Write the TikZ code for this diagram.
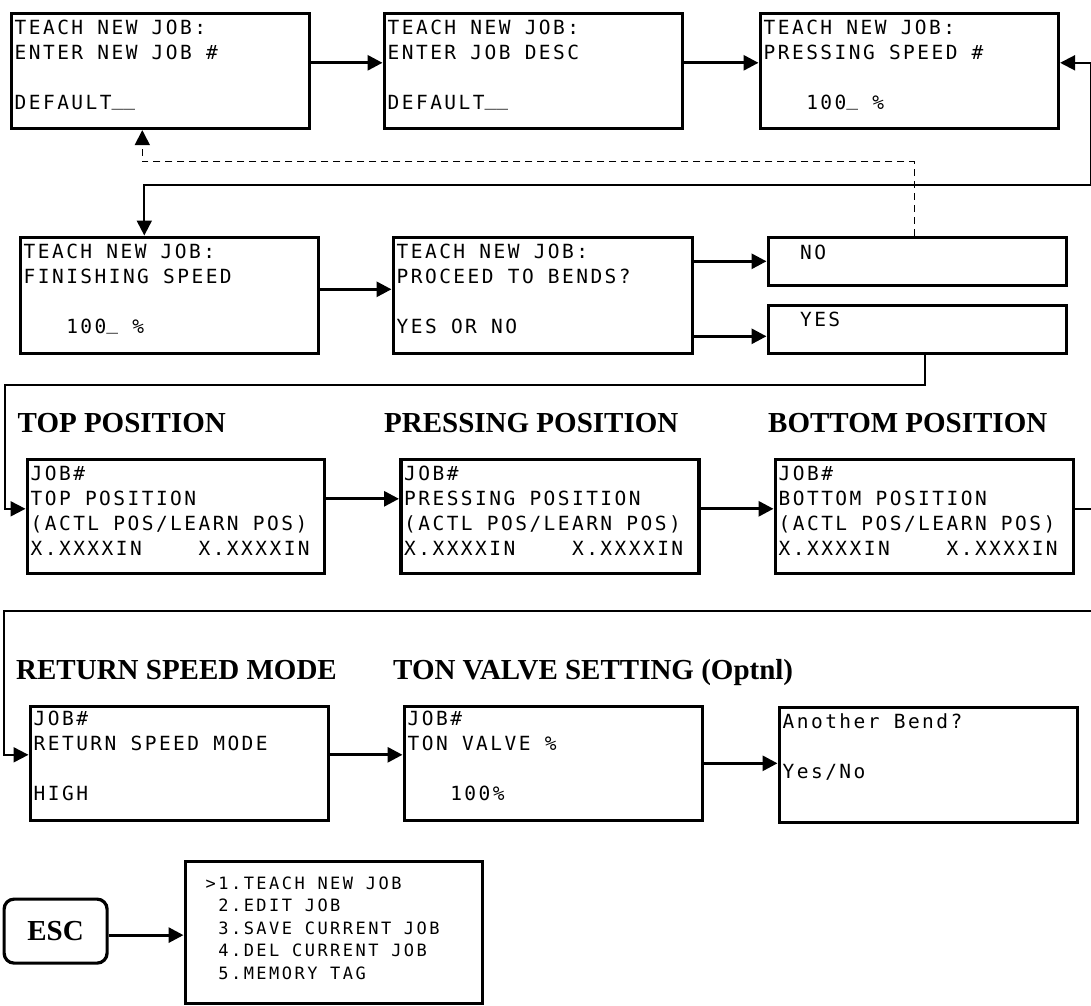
\documentclass[tikz,border=0pt]{standalone}
\usepackage{fontspec}
\setmainfont{Liberation Serif}
\newfontfamily\lcdfam{DejaVu Sans Mono}[LetterSpace=12.6]
\newfontfamily\menufam{DejaVu Sans Mono}[LetterSpace=14.5]
\newcommand\lcdfont{\lcdfam\fontsize{19.5}{25}\selectfont\spaceskip=14.2pt\relax\frenchspacing}
\newcommand\menufont{\menufam\fontsize{17}{22.5}\selectfont\spaceskip=12.7pt\relax\frenchspacing}
\newcommand\hdrfont{\fontsize{29}{32}\selectfont\bfseries}
\newcommand\lcdbar{\raisebox{3.5pt}{\_}}
\usetikzlibrary{arrows.meta,positioning}

\begin{document}
\begin{tikzpicture}[
    x=1pt, y=-1pt,
    screen/.style={draw, line width=3.6pt, anchor=north west, inner sep=0pt, minimum width=298pt, minimum height=115pt},
    scrtxt/.style={anchor=north west, inner sep=0pt, align=left, font=\lcdfont},
    keybox/.style={draw, line width=3.2pt, rounded corners=10pt, anchor=north west, inner sep=0pt, minimum width=103pt, minimum height=64pt, font=\hdrfont},
    hdr/.style={anchor=base west, inner sep=0pt, font=\hdrfont},
    arr/.style={->, line width=3pt},
    ret/.style={line width=2pt},
    dashret/.style={line width=1.6pt, dash pattern=on 7pt off 5pt},
    >={Triangle[length=15pt, width=15pt]}
]
    \useasboundingbox (0,0) rectangle (1091,1005);

    % Teach new job: first row
    \node[screen] (newjob) at (9.5,11.5) {};
    \node[scrtxt] (newjob-t) at ([xshift=5pt, yshift=-8pt]newjob.north west) {TEACH NEW JOB:\\ENTER NEW JOB \#\\ \\DEFAULT\lcdbar\lcdbar};
    \node[screen] (jobdesc) at (382.5,11.5) {};
    \node[scrtxt] (jobdesc-t) at ([xshift=5pt, yshift=-8pt]jobdesc.north west) {TEACH NEW JOB:\\ENTER JOB DESC\\ \\DEFAULT\lcdbar\lcdbar};
    \node[screen] (pspeed) at (758.5,11.5) {};
    \node[scrtxt] (pspeed-t) at ([xshift=5pt, yshift=-8pt]pspeed.north west) {TEACH NEW JOB:\\PRESSING SPEED \#\\ \\\ \ \ 100\lcdbar\ \%};

    % Second row
    \node[screen, minimum height=116pt] (finish) at (18.5,235.5) {};
    \node[scrtxt] (finish-t) at ([xshift=5pt, yshift=-8pt]finish.north west) {TEACH NEW JOB:\\FINISHING SPEED\\ \\\ \ \ 100\lcdbar\ \%};
    \node[screen, minimum width=299pt, minimum height=116pt] (proceed) at (391.5,235.5) {};
    \node[scrtxt] (proceed-t) at ([xshift=5pt, yshift=-8pt]proceed.north west) {TEACH NEW JOB:\\PROCEED TO BENDS?\\ \\YES OR NO};
    \node[screen, minimum height=48pt] (no) at (766.5,235.5) {};
    \node[scrtxt] (no-t) at ([xshift=5pt, yshift=-9pt]no.north west) {\ \ NO};
    \node[screen, minimum height=48pt] (yes) at (766.5,303.5) {};
    \node[scrtxt] (yes-t) at ([xshift=5pt, yshift=-8pt]yes.north west) {\ \ YES};

    % Bend positions
    \node[hdr] (hd-top) at (17.5,432) {TOP POSITION};
    \node[hdr] (hd-press) at (384,432) {PRESSING POSITION};
    \node[hdr] (hd-bot) at (768,432) {BOTTOM POSITION};
    \node[screen, minimum width=297pt, minimum height=114pt] (toppos) at (25.5,457.5) {};
    \node[scrtxt] (toppos-t) at ([xshift=5pt, yshift=-8pt]toppos.north west) {JOB\#\\TOP POSITION\\(ACTL POS/LEARN POS)\\X.XXXXIN\ \ \ \ X.XXXXIN};
    \node[screen, minimum height=114pt] (prespos) at (399,457.5) {};
    \node[scrtxt] (prespos-t) at ([xshift=5pt, yshift=-8pt]prespos.north west) {JOB\#\\PRESSING POSITION\\(ACTL POS/LEARN POS)\\X.XXXXIN\ \ \ \ X.XXXXIN};
    \node[screen, minimum height=114pt] (botpos) at (773.5,457.5) {};
    \node[scrtxt] (botpos-t) at ([xshift=5pt, yshift=-8pt]botpos.north west) {JOB\#\\BOTTOM POSITION\\(ACTL POS/LEARN POS)\\X.XXXXIN\ \ \ \ X.XXXXIN};

    % Return speed, ton valve, another bend
    \node[hdr] (hd-ret) at (16,679) {RETURN SPEED MODE};
    \node[hdr] (hd-ton) at (393,679) {TON VALVE SETTING (Optnl)};
    \node[screen, minimum height=114pt] (retspeed) at (28.5,704.5) {};
    \node[scrtxt] (retspeed-t) at ([xshift=5pt, yshift=-6pt]retspeed.north west) {JOB\#\\RETURN SPEED MODE\\ \\HIGH};
    \node[screen, minimum height=114pt] (tonvalve) at (402.5,704.5) {};
    \node[scrtxt] (tonvalve-t) at ([xshift=5pt, yshift=-6pt]tonvalve.north west) {JOB\#\\TON VALVE \%\\ \\\ \ \ 100\%};
    \node[screen] (another) at (777.5,705.5) {};
    \node[scrtxt] (another-t) at ([xshift=5pt, yshift=-8pt]another.north west) {Another Bend?\\ \\Yes/No};

    % Escape key and main menu
    \node[keybox] (esc) at (2.5,897.5) {ESC};
    \node[screen, minimum width=297pt, minimum height=142pt] (menu) at (183.5,859.5) {};
    \node[scrtxt, font=\menufont] (menu-t) at ([xshift=22pt, yshift=-17pt]menu.north west) {>1.TEACH NEW JOB\\\ 2.EDIT JOB\\\ 3.SAVE CURRENT JOB\\\ 4.DEL CURRENT JOB\\\ 5.MEMORY TAG};

    % Entry points of the connectors
    \coordinate (finish-in) at ([xshift=-25pt]finish.north);
    \coordinate (newjob-in) at ([xshift=-18pt]newjob.south);
    \coordinate (yes-in) at ([yshift=-7pt]yes.west);
    \coordinate (top-in) at ([yshift=7.5pt]toppos.west);
    \coordinate (ret-in) at ([yshift=8.5pt]retspeed.west);
    \coordinate (esc-out) at ([yshift=-4pt]esc.east);

    % Arrows
    \draw[arr] ([yshift=8pt]newjob.east) -- ([yshift=8pt]jobdesc.west);
    \draw[arr] ([yshift=8pt]jobdesc.east) -- ([yshift=8pt]pspeed.west);
    \draw[ret, <->] ([yshift=8pt]pspeed.east) -| ++(31,122) -| (finish-in);
    \draw[dashret, ->] ([xshift=-3pt]no.north) -- ++(0,-74) -| (newjob-in);
    \draw[arr] ([yshift=6pt]finish.east) -- ([yshift=6pt]proceed.west);
    \draw[arr] (proceed.east |- no.west) -- (no.west);
    \draw[arr] (proceed.east |- yes-in) -- (yes-in);
    \draw[ret, ->] ([xshift=8pt]yes.south) -- ++(0,30) -| ([xshift=-21pt]top-in) -- (top-in);
    \draw[arr] ([yshift=17.5pt]toppos.east) -- ([yshift=17.5pt]prespos.west);
    \draw[arr] ([yshift=7.5pt]prespos.east) -- ([yshift=7.5pt]botpos.west);
    \draw[ret, ->] ([yshift=7.5pt]botpos.east) -| ++(30,102) -| ([xshift=-24.5pt]ret-in) -- (ret-in);
    \draw[arr] ([yshift=8.5pt]retspeed.east) -- ([yshift=8.5pt]tonvalve.west);
    \draw[arr] (tonvalve.east) -- (tonvalve.east -| another.west);
    \draw[arr] (esc-out) -- (esc-out -| menu.west);
\end{tikzpicture}
\end{document}
